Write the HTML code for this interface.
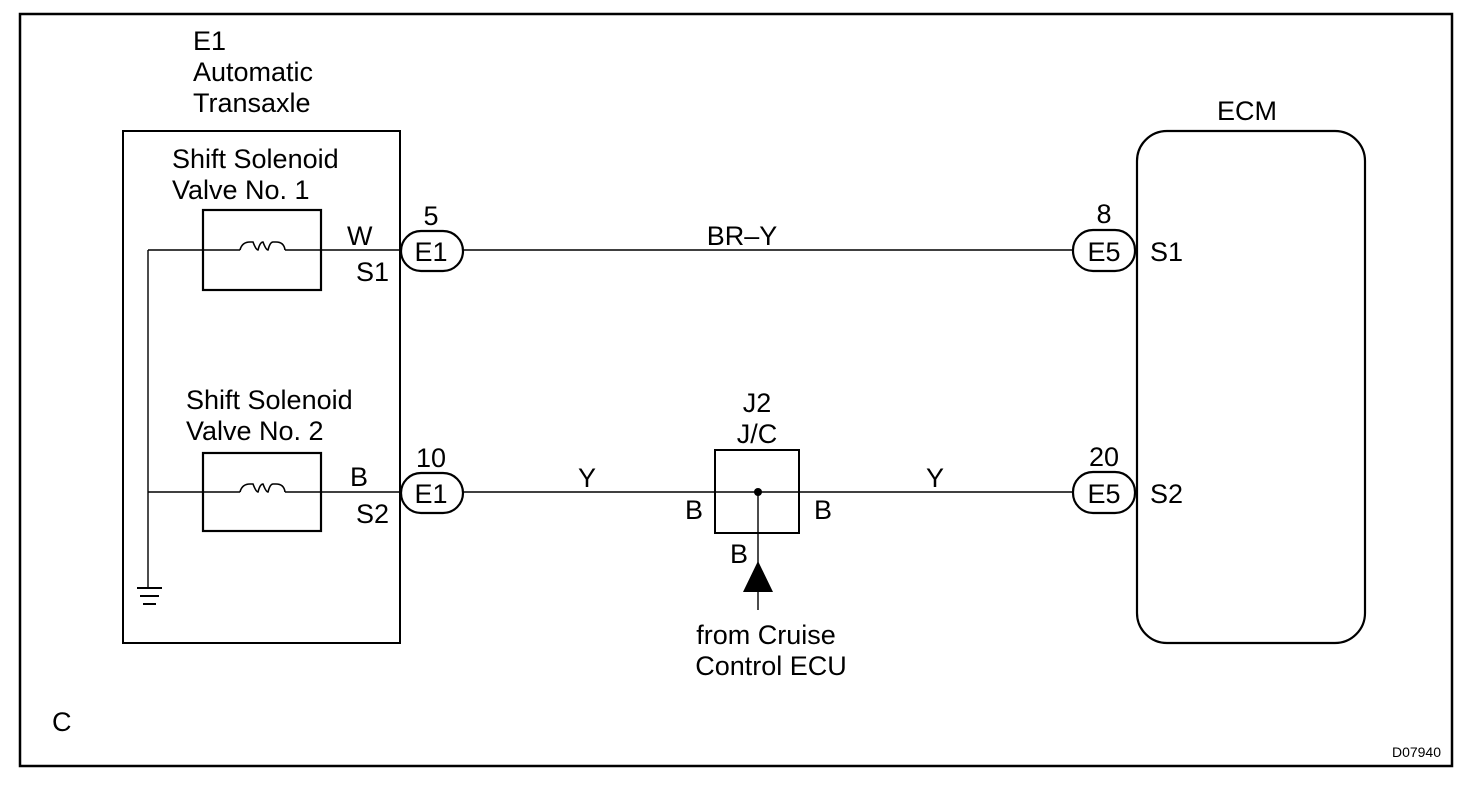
<!DOCTYPE html>
<html><head><meta charset="utf-8"><style>
html,body{margin:0;padding:0;background:#fff;}
svg{display:block;}
text{font-family:"Liberation Sans",Arial,sans-serif;fill:#000;}
</style></head><body>
<svg width="1472" height="798" viewBox="0 0 1472 798" xmlns="http://www.w3.org/2000/svg">
<rect x="0" y="0" width="1472" height="798" fill="#fff"/>
<rect x="20" y="14" width="1432" height="752" fill="none" stroke="#000" stroke-width="2.5"/>
<rect x="123" y="131" width="277" height="512" fill="none" stroke="#000" stroke-width="2"/>
<rect x="203" y="210" width="118" height="80" fill="none" stroke="#000" stroke-width="2.2"/>
<rect x="203" y="453" width="118" height="78" fill="none" stroke="#000" stroke-width="2.2"/>
<g stroke="#000" stroke-width="1.4" fill="none">
<line x1="148" y1="250" x2="240" y2="250"/>
<line x1="285" y1="250" x2="400" y2="250"/>
<line x1="148" y1="492" x2="240" y2="492"/>
<line x1="285" y1="492" x2="400" y2="492"/>
<line x1="148" y1="250" x2="148" y2="588"/>
<line x1="463" y1="250" x2="1073" y2="250"/>
<line x1="463" y1="492" x2="1073" y2="492"/>
<line x1="758" y1="492" x2="758" y2="610"/>
<path stroke-width="1.6" d="M240 250 Q242 242 250 242 L253 242 Q256 250 258 250 Q260 242 263 242 Q266 250 268 250 Q270 242 273 242 L276 242 Q284 242 285 250"/>
<path stroke-width="1.6" d="M240 492 Q242 484 250 484 L253 484 Q256 492 258 492 Q260 484 263 484 Q266 492 268 492 Q270 484 273 484 L276 484 Q284 484 285 492"/>
</g>
<g stroke="#000" stroke-width="2">
<line x1="137" y1="588" x2="162" y2="588"/>
<line x1="140" y1="596" x2="159" y2="596"/>
<line x1="143" y1="604" x2="156" y2="604"/>
</g>
<g fill="#fff" stroke="#000" stroke-width="2.2">
<rect x="401" y="231" width="62" height="40" rx="20"/>
<rect x="401" y="473" width="62" height="40" rx="20"/>
<rect x="1073" y="230" width="62" height="41" rx="20"/>
<rect x="1073" y="472" width="62" height="41" rx="20"/>
</g>
<rect x="1137" y="131" width="228" height="512" rx="30" fill="none" stroke="#000" stroke-width="2.2"/>
<rect x="715" y="450" width="84" height="83" fill="none" stroke="#000" stroke-width="2"/>
<circle cx="758" cy="492" r="4" fill="#000"/>
<polygon points="758,561 743,592 773,592" fill="#000"/>
<g font-size="27">
<text x="193" y="50">E1</text>
<text x="193" y="81">Automatic</text>
<text x="193" y="112">Transaxle</text>
<text x="172" y="168">Shift Solenoid</text>
<text x="172" y="199">Valve No. 1</text>
<text x="186" y="409">Shift Solenoid</text>
<text x="186" y="440">Valve No. 2</text>
<text x="347" y="245">W</text>
<text x="356" y="281">S1</text>
<text x="350" y="486">B</text>
<text x="356" y="523">S2</text>
<text x="431" y="225" text-anchor="middle">5</text>
<text x="431" y="467" text-anchor="middle">10</text>
<text x="431" y="261" text-anchor="middle">E1</text>
<text x="431" y="503" text-anchor="middle">E1</text>
<text x="1104" y="223" text-anchor="middle">8</text>
<text x="1104" y="466" text-anchor="middle">20</text>
<text x="1104" y="261" text-anchor="middle">E5</text>
<text x="1104" y="503" text-anchor="middle">E5</text>
<text x="1150" y="261">S1</text>
<text x="1150" y="503">S2</text>
<text x="1247" y="120" text-anchor="middle">ECM</text>
<text x="742" y="245" text-anchor="middle">BR–Y</text>
<text x="587" y="487" text-anchor="middle">Y</text>
<text x="935" y="487" text-anchor="middle">Y</text>
<text x="757" y="412" text-anchor="middle">J2</text>
<text x="757" y="443" text-anchor="middle">J/C</text>
<text x="685" y="519">B</text>
<text x="814" y="519">B</text>
<text x="730" y="563">B</text>
<text x="766" y="644" text-anchor="middle">from Cruise</text>
<text x="771" y="675" text-anchor="middle">Control ECU</text>
<text x="52" y="731">C</text>
</g>
<text x="1441" y="757" font-size="14" text-anchor="end">D07940</text>
</svg>
</body></html>
